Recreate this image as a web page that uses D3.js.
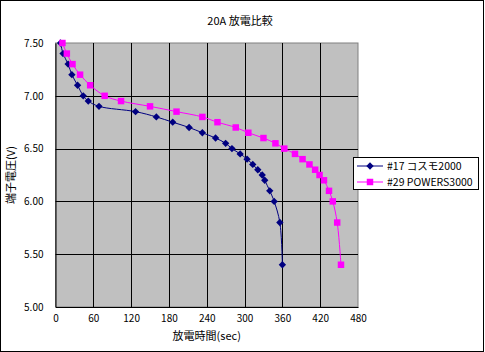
<!DOCTYPE html>
<html>
<head>
<meta charset="utf-8">
<script src="https://cdn.jsdelivr.net/npm/d3@7"></script>
<style>
  body { margin: 0; background: #fff; }
  text { font-family: "Noto Sans CJK JP", "DejaVu Sans", sans-serif; fill: #000; }
  .tick text { font-size: 10px; }
  .title { font-size: 11px; }
  .axisLabel { font-size: 11px; }
  .legend text { font-size: 10.5px; }
</style>
</head>
<body>
<div id="viz"></div>
<script>
// 放電データ (時間 sec, 電圧 V)
const cosmoTime  = [8, 12, 20, 26, 35, 44, 52, 69, 127, 160, 186, 212, 233, 254, 270, 280, 293, 304, 313, 321, 328, 332, 340, 347, 356, 360];
const cosmoVolt  = [7.5, 7.4, 7.3, 7.2, 7.1, 7.0, 6.95, 6.9, 6.85, 6.8, 6.75, 6.7, 6.65, 6.6, 6.55, 6.5, 6.45, 6.4, 6.35, 6.3, 6.25, 6.2, 6.1, 6.0, 5.8, 5.4];
const powersTime = [11, 18, 27, 39, 55, 78, 104, 150, 192, 233, 257, 286, 306, 330, 349, 363, 380, 392, 403, 412, 419, 426, 434, 440, 447, 453];
const powersVolt = [7.5, 7.4, 7.3, 7.2, 7.1, 7.0, 6.95, 6.9, 6.85, 6.8, 6.75, 6.7, 6.65, 6.6, 6.55, 6.5, 6.45, 6.4, 6.35, 6.3, 6.25, 6.2, 6.1, 6.0, 5.8, 5.4];
const seriesNames = ["#17 コスモ2000", "#29 POWERS3000"];
const xTicks = [0, 60, 120, 180, 240, 300, 360, 420, 480];
const yTicks = [5.0, 5.5, 6.0, 6.5, 7.0, 7.5];

const W = 485, H = 352;
const plot = { left: 55.5, right: 358, top: 43, bottom: 307 };

const svg = d3.select("#viz").append("svg")
  .attr("width", W).attr("height", H);

svg.append("rect")
  .attr("x", 0.5).attr("y", 0.5).attr("width", W - 2).attr("height", H - 1)
  .attr("fill", "#fff").attr("stroke", "#000");

const x = d3.scaleLinear().domain([0, 480]).range([plot.left, plot.right]);
const y = d3.scaleLinear().domain([5, 7.5]).range([plot.bottom, plot.top]);

// plot area
svg.append("rect")
  .attr("x", plot.left).attr("y", plot.top)
  .attr("width", plot.right - plot.left).attr("height", plot.bottom - plot.top)
  .attr("fill", "#c0c0c0").attr("stroke", "#808080");

// grid
svg.append("g").selectAll("line").data(xTicks.slice(1, -1)).join("line")
  .attr("x1", d => Math.round(x(d)) + 0.5).attr("x2", d => Math.round(x(d)) + 0.5)
  .attr("y1", plot.top).attr("y2", plot.bottom)
  .attr("stroke", "#000");
svg.append("g").selectAll("line").data(yTicks.slice(1, -1)).join("line")
  .attr("y1", d => Math.round(y(d)) + 0.5).attr("y2", d => Math.round(y(d)) + 0.5)
  .attr("x1", plot.left).attr("x2", plot.right)
  .attr("stroke", "#000");

// axes
const xAxis = svg.append("g").attr("transform", `translate(0,${plot.bottom})`)
  .call(d3.axisBottom(x).tickValues(xTicks).tickSize(0).tickPadding(8).tickFormat(d3.format("d")));
xAxis.select(".domain").attr("stroke", "#000");
const yAxis = svg.append("g").attr("transform", `translate(${plot.left},0)`)
  .call(d3.axisLeft(y).tickValues(yTicks).tickSize(0).tickPadding(12).tickFormat(d3.format(".2f")));
yAxis.select(".domain").attr("stroke", "#000");
svg.selectAll(".tick text").attr("font-family", null);

// titles
svg.append("text").attr("class", "title")
  .attr("x", 240).attr("y", 25).attr("text-anchor", "middle").text("20A 放電比較");
svg.append("text").attr("class", "axisLabel")
  .attr("x", (plot.left + plot.right) / 2).attr("y", 340).attr("text-anchor", "middle").text("放電時間(sec)");
svg.append("text").attr("class", "axisLabel")
  .attr("transform", `translate(15,${(plot.top + plot.bottom) / 2}) rotate(-90)`)
  .attr("text-anchor", "middle").text("端子電圧(V)");

const line = d3.line().x(d => x(d[0])).y(d => y(d[1])).curve(d3.curveCatmullRom.alpha(0.5));

const series = [
  { name: seriesNames[0], color: "#000080", size: 27, rot: 45, pts: d3.zip(cosmoTime, cosmoVolt) },
  { name: seriesNames[1], color: "#ff00ff", size: 42, rot: 0, pts: d3.zip(powersTime, powersVolt) }
];

series.forEach(s => {
  svg.append("path").attr("d", line(s.pts))
    .attr("fill", "none").attr("stroke", s.color).attr("stroke-width", 1);
  svg.append("g").selectAll("path").data(s.pts).join("path")
    .attr("d", d3.symbol().type(d3.symbolSquare).size(s.size))
    .attr("transform", d => `translate(${x(d[0])},${y(d[1])}) rotate(${s.rot})`)
    .attr("fill", s.color);
});

// legend
const lg = svg.append("g").attr("class", "legend");
lg.append("rect").attr("x", 353.5).attr("y", 157.5).attr("width", 125).attr("height", 32)
  .attr("fill", "#fff").attr("stroke", "#000");
series.forEach((s, i) => {
  const ly = 166 + i * 16;
  lg.append("line").attr("x1", 357).attr("x2", 383).attr("y1", ly).attr("y2", ly)
    .attr("stroke", s.color);
  lg.append("path").attr("d", d3.symbol().type(d3.symbolSquare).size(s.size))
    .attr("transform", `translate(370,${ly}) rotate(${s.rot})`).attr("fill", s.color);
  lg.append("text").attr("x", 387).attr("y", ly + 4).text(s.name);
});
</script>
</body>
</html>
